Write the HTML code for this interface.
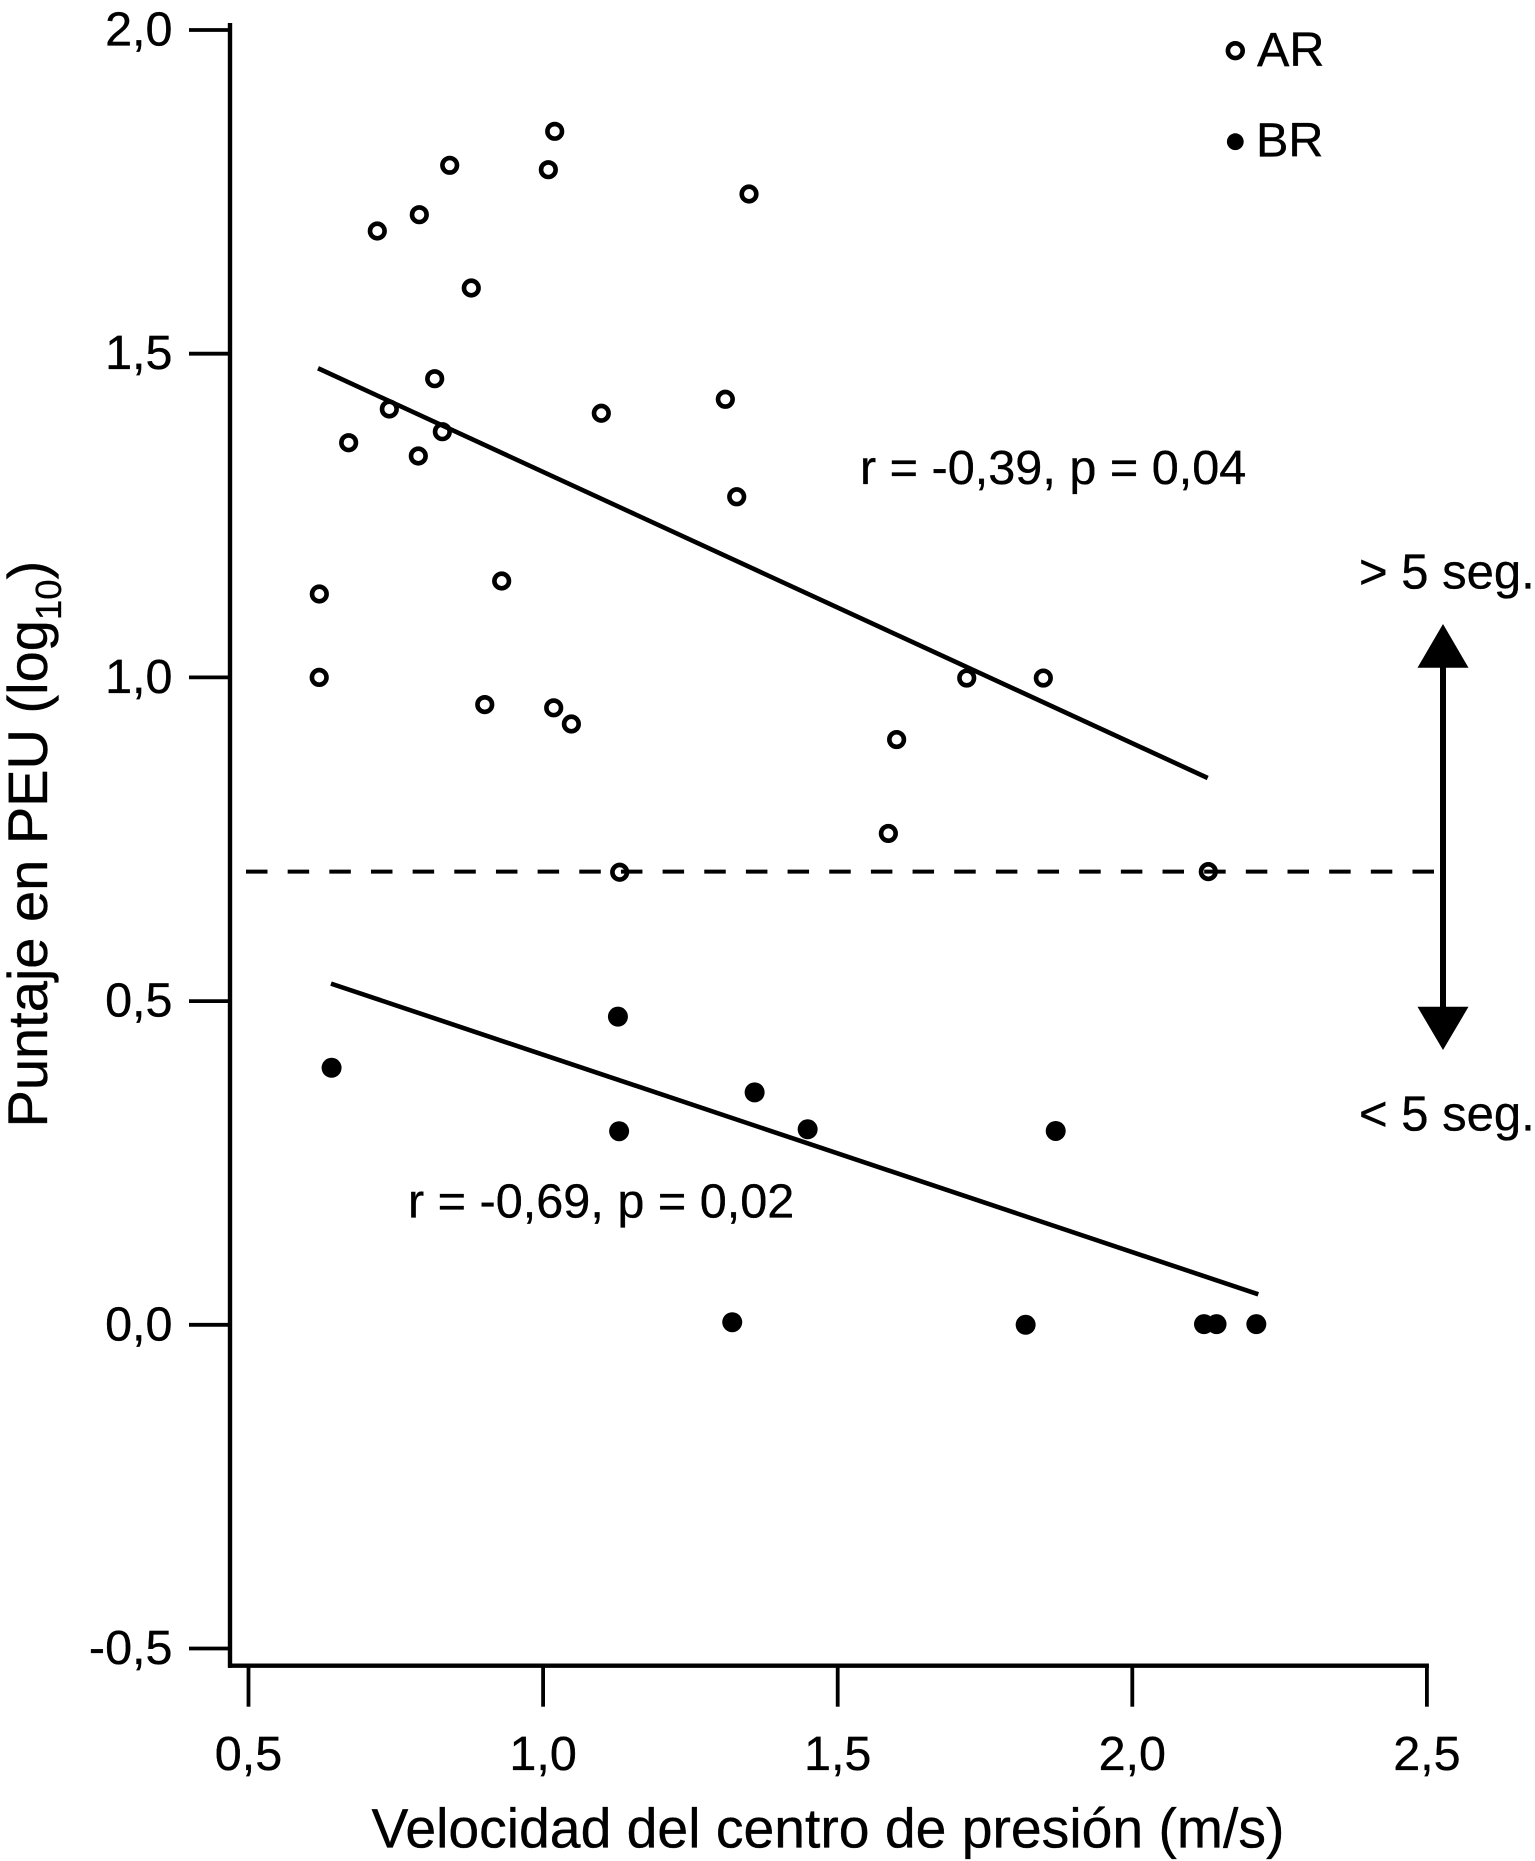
<!DOCTYPE html>
<html lang="es">
<head>
<meta charset="utf-8">
<title>Puntaje en PEU vs velocidad del centro de presión</title>
<style>
html,body{margin:0;padding:0;background:#fff;}
body{width:1535px;height:1861px;overflow:hidden;}
svg{display:block;}
text{font-family:"Liberation Sans",Arial,sans-serif;fill:#000;stroke:#000;stroke-width:0.35px;}
</style>
</head>
<body>
<svg id="chart" xmlns="http://www.w3.org/2000/svg" width="1535" height="1861" viewBox="0 0 1535 1861">
  <g id="axes"></g>
  <g id="series"></g>

  <text x="371.5" y="1847.5" font-size="55.3">Velocidad del centro de presión (m/s)</text>
  <text transform="translate(47,1127.5) rotate(-90)" font-size="56">Puntaje en PEU (log<tspan font-size="36.5" dy="14">10</tspan><tspan dy="-14">)</tspan></text>

  <text x="860" y="484" font-size="48.6">r = -0,39, p = 0,04</text>
  <text x="408" y="1217.5" font-size="48.6">r = -0,69, p = 0,02</text>

  <g>
    <circle cx="1235.3" cy="50.7" r="7.4" fill="#fff" stroke="#000" stroke-width="4.6"/>
    <text x="1257" y="66" font-size="48.6">AR</text>
    <circle cx="1235.3" cy="141.7" r="8.4" fill="#000"/>
    <text x="1256" y="156.7" font-size="48.6">BR</text>
  </g>

  <g>
    <rect x="1440" y="660" width="6" height="355" fill="#000"/>
    <polygon points="1443,624 1468.5,667.7 1417.5,667.7" fill="#000"/>
    <polygon points="1417.5,1006.8 1468.5,1006.8 1443,1050" fill="#000"/>
  </g>
  <text x="1359" y="588.5" font-size="49">&gt; 5 seg.</text>
  <text x="1359" y="1130.5" font-size="49">&lt; 5 seg.</text>
</svg>

<script>
// Axis ticks
const xTickValues = [0.5, 1.0, 1.5, 2.0, 2.5];
const xTickLabels = ["0,5", "1,0", "1,5", "2,0", "2,5"];
const yTickValues = [2.0, 1.5, 1.0, 0.5, 0.0, -0.5];
const yTickLabels = ["2,0", "1,5", "1,0", "0,5", "0,0", "-0,5"];

// AR group (open circles)
const arVelocity = [1.0197, 1.0089, 0.8415, 0.7899, 0.7186, 0.8781, 1.3495, 0.816, 0.739, 0.67, 0.7882, 0.829, 1.0988, 1.3093, 1.3286, 0.9297, 0.6202, 0.62, 0.901, 1.018, 1.048, 1.719, 1.849, 1.6, 1.586, 1.13, 2.129];
const arScore = [1.8435, 1.7842, 1.791, 1.7147, 1.6895, 1.6015, 1.7467, 1.4614, 1.4146, 1.3625, 1.342, 1.3795, 1.408, 1.4296, 1.279, 1.1489, 1.1288, 1.0, 0.958, 0.953, 0.928, 0.999, 0.999, 0.904, 0.759, 0.699, 0.70];

// BR group (filled circles)
const brVelocity = [0.641, 1.127, 1.129, 1.359, 1.449, 1.87, 1.321, 1.819, 2.1217, 2.143, 2.2105];
const brScore = [0.397, 0.476, 0.299, 0.359, 0.302, 0.2994, 0.004, 0, 0.001, 0.001, 0.001];

// Regression lines: [start, end]
const arFitVelocity = [0.618, 2.128];
const arFitScore = [1.4775, 0.8446];
const brFitVelocity = [0.64, 2.2138];
const brFitScore = [0.527, 0.0471];

// Threshold (dashed line)
const thresholdScore = [0.70];

const NS = 'http://www.w3.org/2000/svg';
function xScale(v) { return 248.5 + (v - 0.5) * 589.2; }
function yScale(v) { return 30 + (2 - v) * 647.4; }
function make(tag, parent, props, text) {
  const el = document.createElementNS(NS, tag);
  for (const k in props) el.setAttribute(k, props[k]);
  if (text !== undefined) el.textContent = text;
  parent.appendChild(el);
  return el;
}

const axes = document.getElementById('axes');
const series = document.getElementById('series');
const plotBottom = 1665.7;
const plotLeft = 230;

const yAxisLine = make('line', axes, {x1: plotLeft, x2: plotLeft, y1: 23, y2: plotBottom + 2, stroke: '#000', 'stroke-width': 4.4});



const xAxisLine = make('line', axes, {x1: plotLeft - 2, x2: xScale(2.5) + 2, y1: plotBottom, y2: plotBottom, stroke: '#000', 'stroke-width': 4.4});



xTickValues.forEach(function (v, i) {
  const tick = make('line', axes, {x1: xScale(v), x2: xScale(v), y1: plotBottom, y2: 1706.7, stroke: '#000', 'stroke-width': 3.8});
  
  
  const label = make('text', axes, {x: xScale(v), y: 1770, 'font-size': 48.5, 'text-anchor': 'middle'}, xTickLabels[i]);
  
  
});

yTickValues.forEach(function (v, i) {
  const tick = make('line', axes, {x1: 189, x2: plotLeft, y1: yScale(v), y2: yScale(v), stroke: '#000', 'stroke-width': 3.8});
  
  
  const label = make('text', axes, {x: 172.5, y: yScale(v) + 15.5, 'font-size': 48.5, 'text-anchor': 'end'}, yTickLabels[i]);
  
  
});

const dashLine = make('line', series, {x1: 246, x2: 1434, y1: yScale(thresholdScore[0]), y2: yScale(thresholdScore[0]), stroke: '#000', 'stroke-width': 4, 'stroke-dasharray': '21.5 20.16'});



arVelocity.forEach(function (v, i) {
  const pt = make('circle', series, {cx: xScale(v), cy: yScale(arScore[i]), r: 7.3, fill: 'none', stroke: '#000', 'stroke-width': 4.6});
  
  
});

brVelocity.forEach(function (v, i) {
  const pt = make('circle', series, {cx: xScale(v), cy: yScale(brScore[i]), r: 10, fill: '#000'});
  
  
});

const arFit = make('line', series, {x1: xScale(arFitVelocity[0]), y1: yScale(arFitScore[0]), x2: xScale(arFitVelocity[1]), y2: yScale(arFitScore[1]), stroke: '#000', 'stroke-width': 4.6});



const brFit = make('line', series, {x1: xScale(brFitVelocity[0]), y1: yScale(brFitScore[0]), x2: xScale(brFitVelocity[1]), y2: yScale(brFitScore[1]), stroke: '#000', 'stroke-width': 4.6});


</script>
</body>
</html>
